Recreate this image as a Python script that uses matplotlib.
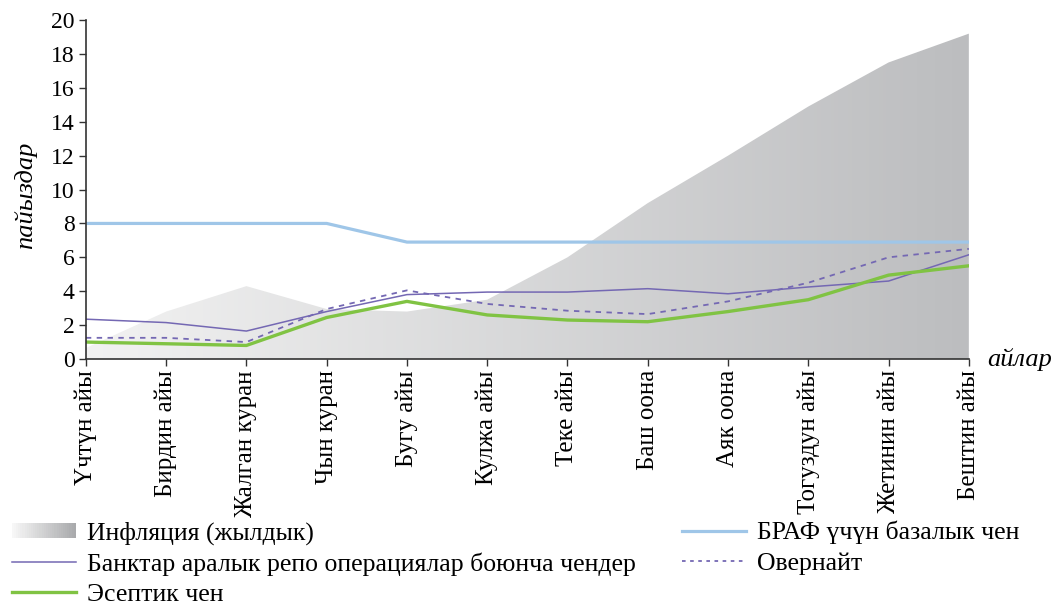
import numpy as np
import matplotlib
matplotlib.use("Agg")
import matplotlib.pyplot as plt
from matplotlib.patches import Rectangle, Polygon
from matplotlib.legend_handler import HandlerBase
from matplotlib.lines import Line2D

plt.rcParams['font.family'] = ['Liberation Serif', 'DejaVu Serif']

months = ["Үчтүн айы", "Бирдин айы", "Жалган куран", "Чын куран", "Бугу айы",
          "Кулжа айы", "Теке айы", "Баш оона", "Аяк оона", "Тогуздун айы",
          "Жетинин айы", "Бештин айы"]
inflation = [0.65, 2.8, 4.3, 2.95, 2.8, 3.5, 6.0, 9.2, 12.0, 14.9, 17.5, 19.2]
base_rate = [8.0, 8.0, 8.0, 8.0, 6.9, 6.9, 6.9, 6.9, 6.9, 6.9, 6.9, 6.9]
repo = [2.35, 2.15, 1.65, 2.8, 3.8, 3.95, 3.95, 4.15, 3.85, 4.25, 4.6, 6.15]
overnight = [1.25, 1.25, 1.0, 2.95, 4.05, 3.25, 2.85, 2.65, 3.4, 4.5, 6.0, 6.5]
policy = [1.0, 0.9, 0.8, 2.45, 3.4, 2.6, 2.3, 2.2, 2.8, 3.5, 4.95, 5.5]

x = np.arange(len(months))

fig = plt.figure(figsize=(10.6, 6.09), dpi=100)
ax = fig.add_axes([0.081, 0.4105, 0.833, 0.5565])

# inflation area with a left-to-right gray gradient
grad = np.linspace(0, 1, 256).reshape(1, -1)
cmap = matplotlib.colors.LinearSegmentedColormap.from_list('g', ['#f2f2f2', '#bcbdbf'])
img = ax.imshow(grad, extent=[x[0], x[-1], 0, 20], aspect='auto', cmap=cmap,
                origin='lower', zorder=1)
verts = np.column_stack([np.r_[x, x[::-1]], np.r_[inflation, np.zeros(len(x))]])
clip = Polygon(verts, closed=True, transform=ax.transData, facecolor='none', edgecolor='none')
ax.add_patch(clip)
img.set_clip_path(clip)

ax.plot(x, base_rate, color='#9fc6e8', lw=2.3, zorder=3)
ax.plot(x, repo, color='#7468b3', lw=1.1, zorder=4)
ax.plot(x, overnight, color='#7468b3', lw=1.3, ls=(0, (3, 3)), zorder=4)
ax.plot(x, policy, color='#80c343', lw=2.4, zorder=5)

ax.set_xlim(x[0], x[-1])
ax.set_ylim(0, 20)
ax.set_yticks(range(0, 21, 2))
ax.set_xticks(x)
ax.set_xticklabels(months, rotation=90, fontsize=18)
ax.tick_params(axis='y', labelsize=17, length=5, color='#333333', width=1, pad=3)
ax.tick_params(axis='x', length=5, color='#333333', width=1, pad=3)
for s in ['top', 'right']:
    ax.spines[s].set_visible(False)
for s in ['left', 'bottom']:
    ax.spines[s].set_color('#333333')
    ax.spines[s].set_linewidth(1.2)
    ax.spines[s].set_zorder(6)

fig.text(0.024, 0.68, "пайыздар", rotation=90, style='italic', fontsize=19,
         ha='center', va='center')
fig.text(0.931, 0.41, "айлар", style='italic', fontsize=19, ha='left', va='center')


class GradientHandler(HandlerBase):
    def create_artists(self, legend, orig_handle, xdescent, ydescent, width, height,
                       fontsize, trans):
        n = 30
        arts = []
        cm = matplotlib.colors.LinearSegmentedColormap.from_list('l', ['#f7f7f7', '#a9aaac'])
        for i in range(n):
            r = Rectangle((-xdescent + width * i / n, -ydescent + height * 0.1),
                          width / n + 0.3, height * 0.8, facecolor=cm(i / (n - 1)),
                          edgecolor='none', transform=trans)
            arts.append(r)
        return arts


infl_handle = Rectangle((0, 0), 1, 1)
handles = [infl_handle,
           Line2D([], [], color='#7468b3', lw=1.1),
           Line2D([], [], color='#80c343', lw=2.4),
           Line2D([], [], color='#9fc6e8', lw=2.3),
           Line2D([], [], color='#7468b3', lw=1.3, ls=(0, (2, 2.5)))]
labels = ["Инфляция (жылдык)",
          "Банктар аралык репо операциялар боюнча чендер",
          "Эсептик чен",
          "БРАФ үчүн базалык чен",
          "Овернайт"]
fig.legend(handles, labels, loc='upper left', bbox_to_anchor=(0.011, 0.1445),
           ncol=2, frameon=False, fontsize=18.5, handlelength=2.5, handletextpad=0.42,
           columnspacing=1.8, labelspacing=0.28, borderaxespad=0, borderpad=0,
           handler_map={infl_handle: GradientHandler()})

fig.savefig("out.png", dpi=100)
